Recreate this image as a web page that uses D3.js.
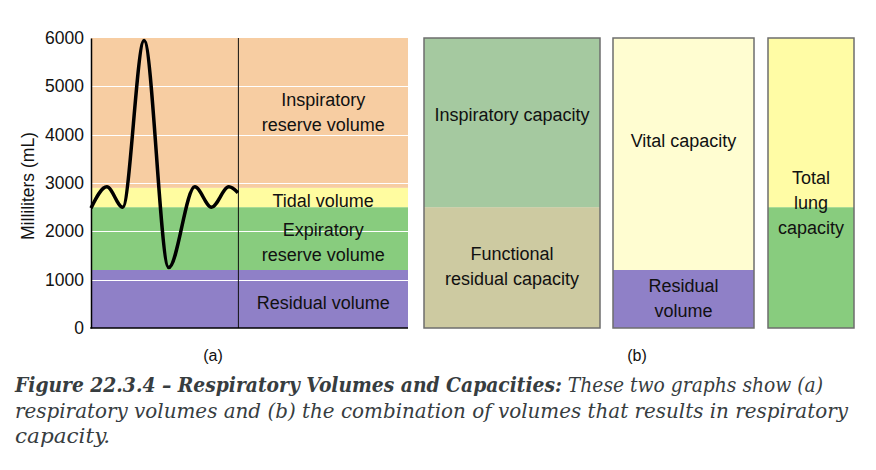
<!DOCTYPE html>
<html>
<head>
<meta charset="utf-8">
<script src="https://cdn.jsdelivr.net/npm/d3@7"></script>
<style>
  body { margin: 0; background: #fff; }
  svg { display: block; }
  .sans { font-family: "Liberation Sans", Arial, sans-serif; fill: #111; }
  .caption { font-family: "DejaVu Serif Condensed", "DejaVu Serif", "Liberation Serif", serif; font-stretch: condensed; fill: #373d3f; font-style: italic; }
</style>
</head>
<body>
<svg id="chart" width="876" height="470"></svg>
<script>

// y axis ticks (mL)
var yTicks = [0, 1000, 2000, 3000, 4000, 5000, 6000]

// (a) lung volumes, stacked bottom to top
var volumeNames = ["Residual volume", "Expiratory reserve volume", "Tidal volume", "Inspiratory reserve volume"]
var volumeLabelLines = [["Residual volume"], ["Expiratory", "reserve volume"], ["Tidal volume"], ["Inspiratory", "reserve volume"]]
var volumeTops = [1200, 2500, 2900, 6000]
var volumeColors = ["#8f80c7", "#88cc7e", "#fffca0", "#f7cda2"]

// spirometer trace, read at its turning points (time in s, volume in mL)
var breathTime = [0, 1.0, 2.0, 3.35, 4.9, 6.55, 7.6, 8.7, 9.27]
var breathVolume = [2480, 2920, 2500, 5950, 1250, 2920, 2500, 2920, 2800]
var traceEnd = 9.3

// (b) capacities: each column is a stack of segments
var capacityColumns = ["Inspiratory / functional residual", "Vital / residual", "Total lung"]
var capacitySegments = [
	[{lo: 0, hi: 2500, color: "#cdcaa1", lines: ["Functional", "residual capacity"]},
	 {lo: 2500, hi: 6000, color: "#a5c9a0", lines: ["Inspiratory capacity"]}],
	[{lo: 0, hi: 1200, color: "#8f80c7", lines: ["Residual", "volume"]},
	 {lo: 1200, hi: 6000, color: "#fffdd1", lines: ["Vital capacity"]}],
	[{lo: 0, hi: 2500, color: "#88cc7e", lines: []},
	 {lo: 2500, hi: 6000, color: "#fffca5", lines: []}]
]
var capacityColumnLabel = [null, null, ["Total", "lung", "capacity"]]

var panelLabels = ["(a)", "(b)"]

var captionLines = [
	[["bold", "Figure 22.3.4 \u2013 Respiratory Volumes and Capacities:"], ["normal", " These two graphs show (a)"]],
	[["normal", "respiratory volumes and (b) the combination of volumes that results in respiratory"]],
	[["normal", "capacity."]]
]
var captionWidths = [808, 833, 95]

var svg = d3.select("#chart")

var margin = {top: 38, bottom: 328, left: 91, right: 408}

var y = d3.scaleLinear().domain([0, 6000]).range([margin.bottom, margin.top])
var x = d3.scaleLinear().domain([0, 20]).range([margin.left, margin.right])

var lineH = 25
var fontSize = "18px"

/* ---- panel (a) ---- */
var gA = svg.append("g")

var bands = volumeTops.map(function(top, i){
	return {name: volumeNames[i], lo: i == 0 ? 0 : volumeTops[i - 1], hi: top, color: volumeColors[i], lines: volumeLabelLines[i]}
})

gA.selectAll("rect.band")
	.data(bands)
	.enter()
	.append("rect")
	.attr("class", "band")
	.attr("x", x(0))
	.attr("width", x(20) - x(0))
	.attr("y", function(d){ return y(d.hi) })
	.attr("height", function(d){ return y(d.lo) - y(d.hi) })
	.attr("fill", function(d){ return d.color })

// white grid lines
gA.selectAll("line.grid")
	.data(yTicks.filter(function(t){ return t > 0 && t < 6000 }))
	.enter()
	.append("line")
	.attr("x1", x(0)).attr("x2", x(20))
	.attr("y1", function(d){ return Math.round(y(d)) + 0.5 })
	.attr("y2", function(d){ return Math.round(y(d)) + 0.5 })
	.attr("stroke", "#fff")
	.attr("stroke-width", 1)

// divider line
gA.append("line")
	.attr("x1", x(traceEnd)).attr("x2", x(traceEnd))
	.attr("y1", y(6000)).attr("y2", y(0))
	.attr("stroke", "#111")
	.attr("stroke-width", 1)

var trace = d3.line()
	.x(function(d){ return x(d[0]) })
	.y(function(d){ return y(d[1]) })
	.curve(d3.curveMonotoneX)

gA.append("path")
	.datum(breathTime.map(function(t, i){ return [t, breathVolume[i]] }))
	.attr("d", trace)
	.attr("fill", "none")
	.attr("stroke", "#000")
	.attr("stroke-width", 3.5)

// band labels, centred in the right half
var labelOffset = [4, 4, 3, 0]
var labelX = (x(traceEnd) + x(20)) / 2
bands.forEach(function(b, i){
	var cy = (y(b.lo) + y(b.hi)) / 2 + labelOffset[i]
	var t = gA.append("text")
		.attr("class", "sans")
		.attr("text-anchor", "middle")
		.style("font-size", fontSize)
	b.lines.forEach(function(line, j){
		t.append("tspan")
			.attr("x", labelX)
			.attr("y", cy + (j - (b.lines.length - 1) / 2) * lineH + 6)
			.text(line)
	})
})

// axes
var yAxis = gA.append("g")
	.attr("transform", "translate(" + margin.left + ",0)")
	.call(d3.axisLeft(y).tickValues(yTicks).tickSize(0).tickPadding(7).tickFormat(d3.format("d")))
yAxis.select(".domain").attr("stroke", "#000").attr("stroke-width", 1.5)
yAxis.selectAll("text")
	.attr("class", "sans")
	.style("font-size", "17.5px")
	.attr("font-family", null)

gA.append("line")
	.attr("x1", margin.left - 0.75).attr("x2", x(20))
	.attr("y1", y(0)).attr("y2", y(0))
	.attr("stroke", "#000")
	.attr("stroke-width", 1.5)

gA.append("text")
	.attr("class", "sans")
	.attr("transform", "translate(34," + ((y(0) + y(6000)) / 2 + 3) + ") rotate(-90)")
	.attr("text-anchor", "middle")
	.style("font-size", "17.5px")
	.text("Milliliters (mL)")

/* ---- panel (b) ---- */
var gB = svg.append("g")

var columnExtents = [[424, 600], [613, 754], [768, 854]]

capacityColumns.forEach(function(name, c){
	var x0 = columnExtents[c][0], x1 = columnExtents[c][1]
	var col = gB.append("g").attr("class", "capacity-column")

	col.selectAll("rect")
		.data(capacitySegments[c])
		.enter()
		.append("rect")
		.attr("x", x0)
		.attr("width", x1 - x0)
		.attr("y", function(d){ return y(d.hi) })
		.attr("height", function(d){ return y(d.lo) - y(d.hi) })
		.attr("fill", function(d){ return d.color })

	col.append("rect")
		.attr("x", x0).attr("y", y(6000))
		.attr("width", x1 - x0).attr("height", y(0) - y(6000))
		.attr("fill", "none")
		.attr("stroke", "#6e6e6e")
		.attr("stroke-width", 1.5)

	var segOffset = [[-1, -8], [-1, -13]]
	capacitySegments[c].forEach(function(s, k){
		if (!s.lines.length) return
		var cy = (y(s.lo) + y(s.hi)) / 2 + (segOffset[c] ? segOffset[c][k] : 0)
		var t = col.append("text")
			.attr("class", "sans")
			.attr("text-anchor", "middle")
			.style("font-size", fontSize)
		s.lines.forEach(function(line, j){
			t.append("tspan")
				.attr("x", (x0 + x1) / 2)
				.attr("y", cy + (j - (s.lines.length - 1) / 2) * lineH + 6)
				.text(line)
		})
	})

	if (capacityColumnLabel[c]){
		var lines = capacityColumnLabel[c]
		var t = col.append("text")
			.attr("class", "sans")
			.attr("text-anchor", "middle")
			.style("font-size", fontSize)
		lines.forEach(function(line, j){
			t.append("tspan")
				.attr("x", (x0 + x1) / 2)
				.attr("y", y(2500) - 4 + (j - 1) * lineH + 6)
				.text(line)
		})
	}
})

// panel letters
svg.selectAll("text.panel")
	.data(panelLabels)
	.enter()
	.append("text")
	.attr("class", "sans panel")
	.attr("x", function(d, i){ return [213, 637][i] })
	.attr("y", 361)
	.attr("text-anchor", "middle")
	.style("font-size", "16px")
	.text(function(d){ return d })

/* ---- caption ---- */
captionLines.forEach(function(parts, i){
	var t = svg.append("text")
		.attr("class", "caption")
		.attr("x", 15)
		.attr("y", 392 + i * 25.5)
		.attr("textLength", captionWidths[i])
		.attr("lengthAdjust", "spacingAndGlyphs")
		.style("font-size", "20.5px")
	parts.forEach(function(p){
		t.append("tspan").attr("font-weight", p[0]).text(p[1])
	})
})

</script>
</body>
</html>
